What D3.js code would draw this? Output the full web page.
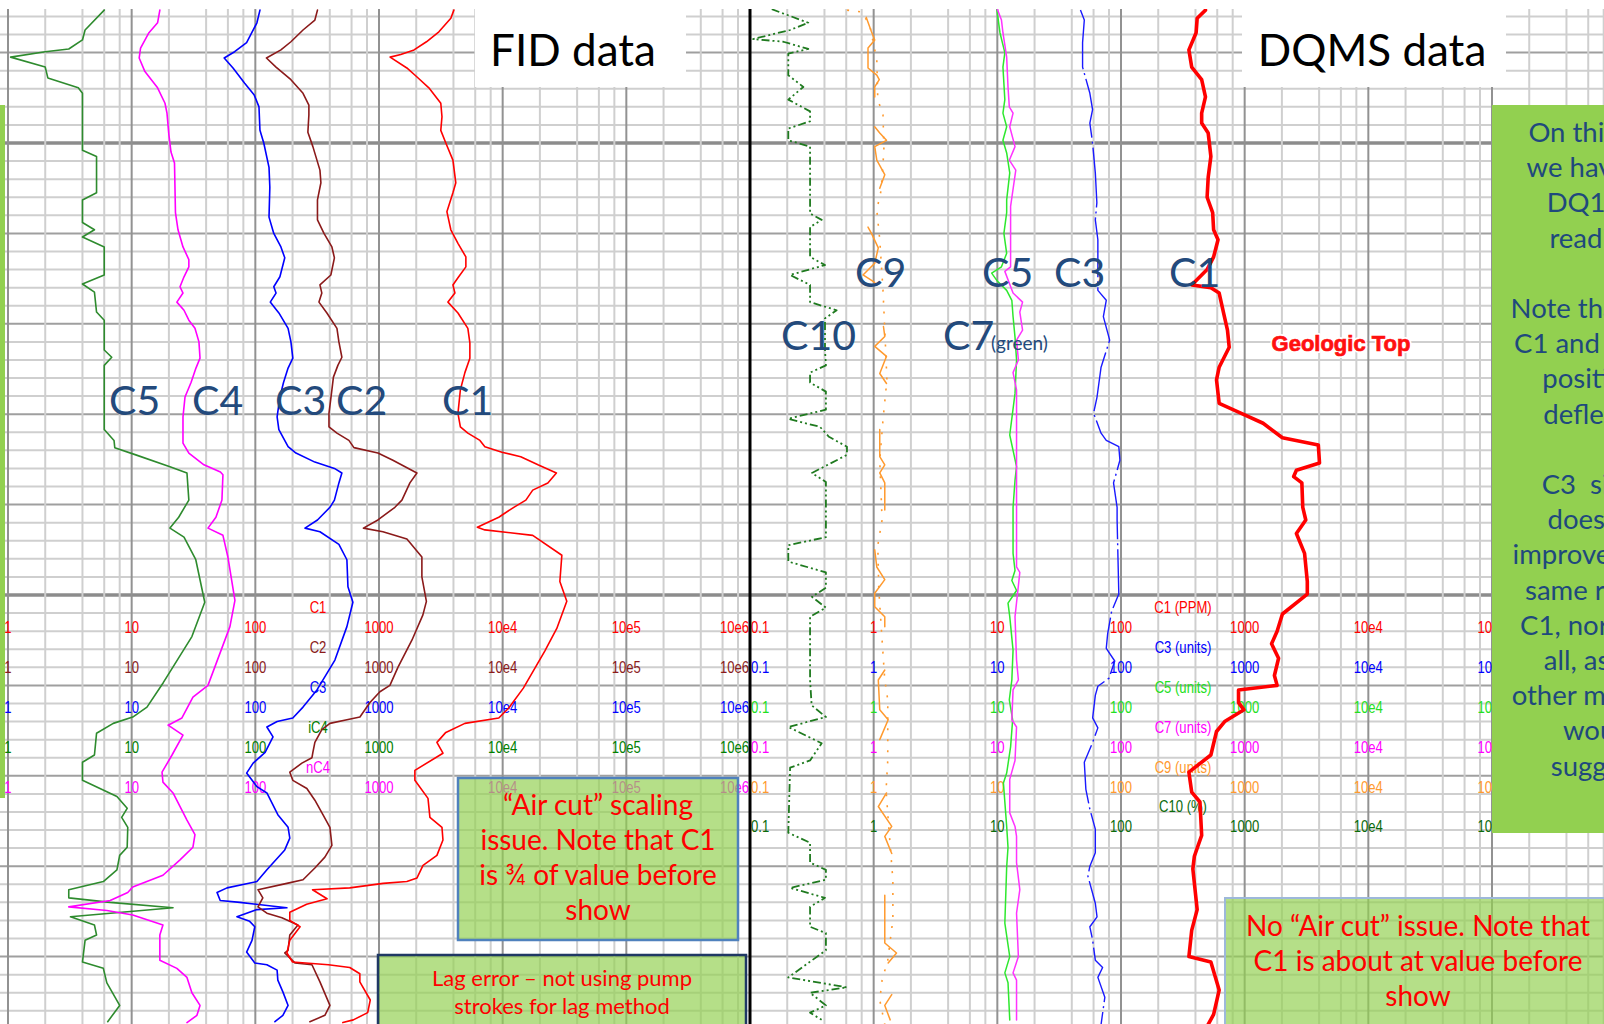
<!DOCTYPE html>
<html><head><meta charset="utf-8">
<script src="https://cdnjs.cloudflare.com/ajax/libs/d3/7.8.5/d3.min.js"></script>
<style>
html,body{margin:0;padding:0;background:#fff;}
svg{display:block;}
</style></head>
<body>
<svg id="chart" width="1604" height="1024"></svg>
<script>
// ---------- FID gas readings: [depth ft, ppm] ----------
const fidC5 = [[5385.3,6.0],[5387.5,4.2],[5388.6,4.0],[5389.6,3.1],[5389.9,2.0],[5390.5,1.05],[5391.6,2.0],[5392.8,2.1],[5393.9,3.7],[5394.5,4.0],[5400.8,4.0],[5401.5,5.2],[5405.5,5.2],[5406.3,4.0],[5408.8,4.0],[5409.6,5.0],[5410.4,4.0],[5411.5,6.0],[5414.6,6.0],[5415.6,4.0],[5416.5,5.0],[5418.7,5.2],[5419.6,6.0],[5422.9,6.0],[5423.7,6.9],[5424.6,6.0],[5431.7,6.0],[5432.9,7.2],[5433.7,7.3],[5434.5,10.8],[5435.8,20.4],[5436.5,28],[5439.5,29],[5441.4,24],[5442.6,20.4],[5443.6,26.5],[5446.1,33],[5450.8,39],[5454.6,30.7],[5459.7,18],[5462.4,13.3],[5463.5,10.2],[5464.2,7.1],[5465.3,5.2],[5467.7,5.0],[5468.5,4.0],[5470.5,4.0],[5472.3,7.6],[5473.6,9.2],[5474.6,8.3],[5475.7,9.3],[5477.9,9.2],[5478.8,8.0],[5480.4,7.6],[5481.7,5.9],[5482.6,3.1],[5483.5,3.1],[5484.0,6.7],[5484.6,21.6],[5485.6,3.2],[5486.5,5.0],[5487.6,5.2],[5488.2,4.2],[5490.6,4.0],[5491.3,5.9],[5492.9,6.3],[5495.4,8.0],[5497.2,6.4]];
const fidC4 = [[5385.3,16.9],[5386.7,16.2],[5387.8,13.8],[5389.5,11.8],[5390.6,11.5],[5392.1,12.8],[5393.9,16.2],[5395.6,18.6],[5396.7,19.3],[5399.1,20],[5401.0,20.8],[5402.2,22.2],[5407.7,22.6],[5409.6,23.7],[5411.5,26],[5412.9,29],[5413.7,29],[5414.8,26.5],[5415.9,24.6],[5416.6,26],[5417.6,23.2],[5418.5,26.5],[5419.6,29],[5420.5,32.5],[5422.0,35],[5423.8,35.7],[5424.9,33.1],[5426.5,30.2],[5428.1,27],[5430.3,26],[5433.2,26],[5434.3,29],[5435.6,38.4],[5436.4,52.2],[5436.7,54.7],[5439.5,53.7],[5441.4,48],[5442.6,41.4],[5443.4,54.7],[5445.8,60],[5450.6,68.4],[5453.5,62.3],[5460.0,41.4],[5461.3,31.3],[5463.6,25.5],[5464.4,19.7],[5465.5,26],[5467.7,21.2],[5469.6,17.6],[5470.7,17.9],[5471.9,21.6],[5474.9,28],[5476.5,32.5],[5477.9,31.3],[5479.3,24.6],[5481.0,17.9],[5482.3,10.2],[5482.9,9.3],[5483.8,6.7],[5484.5,3.1],[5484.9,6.3],[5485.4,10.2],[5486.5,17.9],[5487.6,16.9],[5490.4,16.9],[5491.3,23.2],[5492.3,28],[5494.0,30.7],[5495.4,35.7],[5496.5,33.7],[5497.3,28]];
const fidC3 = [[5385.3,109],[5386.7,103],[5388.9,85],[5389.9,68],[5390.6,56],[5391.7,66],[5393.4,82],[5394.7,98],[5396.0,107],[5398.6,109],[5400.0,117],[5402.7,129],[5404.9,131],[5408.2,129],[5410.0,141],[5411.5,161],[5412.7,173],[5414.8,158],[5415.9,141],[5416.6,147],[5417.6,132],[5418.8,155],[5420.5,184],[5422.0,194],[5423.8,201],[5424.9,184],[5426.5,169],[5428.1,158],[5430.3,150],[5431.7,155],[5433.6,184],[5434.3,213],[5435.3,303],[5436.0,436],[5436.5,501],[5437.6,474],[5439.5,436],[5440.3,401],[5441.7,318],[5442.6,252],[5443.0,333],[5444.4,474],[5446.1,550],[5449.1,561],[5450.8,615],[5453.5,550],[5457.2,440],[5460.5,315],[5462.4,243],[5463.6,201],[5464.0,150],[5464.6,124],[5465.7,139],[5467.4,120],[5468.6,96],[5469.7,85],[5471.2,103],[5471.9,124],[5474.3,152],[5475.7,184],[5476.9,190],[5478.2,173],[5480.4,124],[5481.7,103],[5482.4,59],[5482.9,49],[5483.8,52],[5484.0,75],[5484.6,180],[5484.8,103],[5485.6,71],[5486.1,90],[5486.7,99],[5488.2,94],[5489.5,85],[5490.7,99],[5490.9,124],[5491.5,150],[5492.6,152],[5493.9,167],[5495.4,184],[5496.5,167],[5497.2,144]];
const fidC2 = [[5385.3,318],[5386.4,303],[5387.5,243],[5388.8,194],[5389.7,161],[5390.6,123],[5391.6,147],[5393.0,194],[5394.5,243],[5395.8,271],[5396.9,271],[5398.8,266],[5400.4,292],[5403.0,333],[5404.4,339],[5406.3,318],[5408.5,318],[5410.0,359],[5411.5,416],[5412.7,436],[5414.6,408],[5415.7,333],[5416.6,345],[5417.6,327],[5418.8,379],[5420.5,457],[5422.0,474],[5423.7,501],[5424.6,465],[5425.9,428],[5427.3,416],[5429.9,394],[5431.4,394],[5432.1,457],[5432.9,571],[5433.7,627],[5434.3,980],[5435.1,1295],[5436.5,2025],[5437.6,1778],[5439.5,1532],[5440.3,1345],[5441.7,980],[5442.6,748],[5443.0,1076],[5443.8,1681],[5445.8,2222],[5448.0,2222],[5450.7,2417],[5452.2,2265],[5455.0,1845],[5458.0,1422],[5460.0,1225],[5460.7,1017],[5461.9,845],[5463.5,701],[5463.8,550],[5464.2,401],[5464.9,345],[5466.3,303],[5467.4,292],[5468.0,287],[5468.6,238],[5469.6,190],[5470.5,201],[5471.4,261],[5472.7,303],[5474.3,352],[5475.7,401],[5477.7,416],[5479.0,365],[5480.2,303],[5481.5,243],[5481.9,180],[5482.6,105],[5483.5,115],[5484.5,105],[5485.2,124],[5485.7,164],[5486.5,221],[5487.6,190],[5489.3,184],[5489.6,173],[5490.7,209],[5490.9,287],[5492.8,333],[5495.4,401],[5496.5,365],[5497.2,276]];
const fidC1 = [[5385.3,4030],[5386.2,3810],[5387.7,3050],[5388.8,2420],[5389.7,1920],[5390.2,1500],[5390.5,1230],[5391.7,1680],[5392.7,2030],[5393.9,2530],[5395.6,3160],[5397.1,3230],[5398.6,3160],[5400.0,3470],[5401.9,3960],[5404.4,4180],[5405.5,3960],[5407.6,3540],[5409.6,3810],[5411.1,4350],[5412.6,5040],[5413.7,5040],[5414.9,4350],[5415.7,3960],[5416.6,4110],[5417.6,3610],[5418.8,4350],[5420.5,5230],[5422.1,5430],[5423.8,5430],[5425.4,4950],[5427.3,4550],[5429.9,4350],[5431.4,4550],[5432.1,5230],[5432.9,6550],[5433.6,7180],[5434.2,9860],[5434.7,14000],[5435.6,19300],[5436.5,27200],[5437.6,23200],[5438.4,17500],[5439.5,15400],[5440.3,12300],[5441.4,9300],[5442.5,6240],[5442.8,7180],[5443.4,17500],[5445.6,30100],[5448.5,29000],[5450.7,33000],[5453.7,27400],[5456.2,21900],[5460.3,14700],[5462.5,11200],[5463.6,9300],[5464.2,4950],[5465.2,3470],[5466.3,2940],[5467.5,3290],[5469.4,1950],[5470.5,1950],[5472.5,2490],[5474.6,2580],[5475.7,3230],[5477.1,3290],[5478.8,2940],[5479.9,2270],[5481.3,2030],[5481.7,1680],[5481.9,1080],[5482.4,580],[5482.6,290],[5483.6,380],[5484.2,260],[5485.1,190],[5486.0,190],[5486.7,230],[5488.2,190],[5489.6,180],[5490.6,200],[5490.9,390],[5491.2,580],[5491.9,700],[5492.8,700],[5494.8,850],[5496.2,810],[5497.0,620],[5497.3,510]];

// ---------- DQMS readings: [depth ft, value] (null = no reading) ----------
const dqC10 = [[5385.2,0.150],[5386.7,0.296],[5387.5,0.211],[5388.5,0.106],[5388.8,0.186],[5389.6,0.296],[5390.1,0.204],[5392.5,0.204],[5393.8,0.270],[5395.2,0.204],[5396.5,0.306],[5397.6,0.306],[5398.4,0.204],[5399.7,0.204],[5400.4,0.306],[5407.8,0.306],[5408.5,0.380],[5409.3,0.306],[5412.6,0.306],[5413.5,0.404],[5414.6,0.211],[5415.7,0.306],[5417.6,0.306],[5418.5,0.502],[5419.4,0.404],[5422.9,0.404],[5424.6,0.411],[5425.4,0.306],[5426.5,0.306],[5427.5,0.411],[5429.5,0.411],[5430.5,0.204],[5431.4,0.368],[5432.5,0.435],[5433.6,0.608],[5434.5,0.608],[5436.5,0.317],[5437.5,0.411],[5443.6,0.411],[5444.5,0.204],[5446.3,0.204],[5447.5,0.411],[5449.2,0.411],[5450.2,0.317],[5451.4,0.411],[5452.4,0.306],[5459.4,0.306],[5462.2,0.315],[5463.5,0.411],[5464.6,0.204],[5466.4,0.380],[5468.3,0.306],[5469.1,0.211],[5476.3,0.204],[5477.4,0.306],[5479.6,0.306],[5480.4,0.411],[5481.5,0.411],[5482.4,0.211],[5483.5,0.404],[5484.5,0.306],[5486.7,0.306],[5487.4,0.411],[5489.3,0.411],[5492.3,0.204],[5493.4,0.608],[5494.0,0.306],[5495.4,0.411],[5496.2,0.306],[5497.0,0.380]];
const dqC9 = [[5386.1,0.87],[5387.7,0.96],[5388.6,1.02],[5389.5,0.90],[5391.7,0.90],[5392.5,1.06],[5393.0,1.11],[5393.8,1.02],[5394.9,1.02],[5396.5,null],[5398.2,1.02],[5398.9,1.12],[5399.7,1.27],[5400.4,1.02],[5401.9,1.06],[5403.5,1.23],[5405.0,1.12],[5407,null],[5409.3,0.90],[5410.0,0.96],[5411.6,1.09],[5413.3,1.02],[5414.6,0.82],[5415.3,0.99],[5415.7,1.06],[5418,null],[5420.3,1.20],[5421.4,1.23],[5422.5,1.02],[5423.6,1.27],[5425.5,1.12],[5426.6,1.27],[5429,null],[5431.7,1.12],[5434.7,1.12],[5435.6,1.23],[5436.5,1.12],[5437.6,1.23],[5440.6,1.23],[5443,null],[5445.0,1.02],[5446.9,1.06],[5448.3,1.23],[5449.8,1.02],[5451.3,1.02],[5452.4,1.23],[5453.5,1.23],[5456,null],[5458.3,1.23],[5459.4,1.09],[5462.7,1.12],[5463.8,1.31],[5466.0,1.12],[5469,null],[5471.9,1.27],[5473.4,1.09],[5475.6,1.40],[5476.7,1.23],[5478.6,1.40],[5481,null],[5483.2,1.23],[5488.5,1.23],[5489.6,1.53],[5490.7,1.31],[5492,null],[5494.2,1.40],[5495.4,1.23],[5497.0,1.36]];
const dqC9b = [[5385.3,0.61],[5385.5,0.80],[5387.0,0.93],[5390.8,1.06],[5395.2,1.08],[5396.9,1.19],[5400.8,1.21],[5405.2,1.15],[5407.4,1.06],[5410.7,1.12],[5416.3,1.19],[5420.7,1.23],[5426.2,1.28],[5430.6,1.19],[5435.1,1.12],[5441.7,1.17],[5444.5,1.08],[5449.4,1.10],[5455.0,1.17],[5459.4,1.23],[5461.6,1.30],[5468.3,1.30],[5471.6,1.26],[5476.0,1.33],[5481.5,1.43],[5485.9,1.43],[5490.4,1.30],[5492.6,1.17],[5494.8,1.12],[5497.5,1.23]];
const dqC7 = [[5385.2,10.0],[5386.4,10.8],[5387.8,11.1],[5390.5,11.9],[5393.8,12.2],[5396.0,12.5],[5396.7,13.4],[5398.2,12.6],[5400.4,13.9],[5401.9,12.5],[5403.0,14.1],[5407.0,12.8],[5412.2,12.8],[5413.7,12.8],[5414.2,11.5],[5416.6,13.4],[5417.6,16.0],[5418.7,15.2],[5420.7,16.0],[5421.8,14.3],[5424.0,14.8],[5425.4,13.4],[5427.3,14.3],[5435.4,14.3],[5446.9,14.3],[5447.5,15.2],[5452.4,13.9],[5457.2,14.3],[5459.4,14.8],[5460.5,13.4],[5463.8,13.1],[5464.6,14.3],[5468.3,13.9],[5470.4,12.6],[5474.1,12.6],[5475.6,13.9],[5476.7,14.3],[5479.6,14.3],[5482.6,15.2],[5485.2,14.3],[5490.0,14.8],[5491.8,13.4],[5492.6,14.3],[5497.0,14.3]];
const dqC5 = [[5385.2,9.9],[5387.8,10.5],[5390.0,11.5],[5391.6,11.1],[5395.2,11.5],[5396.7,11.1],[5398.2,11.9],[5399.7,11.1],[5401.1,11.9],[5403.3,12.6],[5406.3,11.9],[5407.7,11.9],[5410.0,11.3],[5412.2,11.9],[5413.7,10.8],[5414.4,9.0],[5415.2,9.9],[5416.3,11.9],[5417.4,13.1],[5419.2,13.4],[5421.5,13.9],[5424.0,14.3],[5427.7,13.9],[5432.3,12.6],[5434.0,13.4],[5435.8,14.3],[5437.3,13.9],[5440.3,13.4],[5443.9,13.4],[5445.4,13.4],[5447.3,13.9],[5448.4,13.1],[5449.5,14.3],[5450.9,12.2],[5452.4,12.6],[5456.1,13.4],[5459.4,13.1],[5461.6,12.5],[5463.8,13.3],[5466.8,12.8],[5469.7,11.9],[5470.8,11.2],[5475.6,11.9],[5477.9,12.2],[5480.1,11.9],[5486.3,11.5],[5490.0,12.6],[5491.8,11.5],[5492.9,12.2],[5497.0,12.6]];
const dqC3 = [[5385.3,47],[5386.4,50.5],[5388.9,48.9],[5391.6,48.9],[5394.5,56],[5396.3,58.9],[5397.8,56],[5400.0,58.9],[5403.3,62],[5406.6,63.8],[5408.5,62],[5410.7,65],[5416.3,65],[5417.4,76],[5419.2,72],[5421.8,81],[5424.8,69],[5428.1,64],[5429.9,60],[5432.1,69],[5432.9,76],[5433.6,96],[5435.1,98],[5437.6,87],[5440.3,93],[5441.7,93],[5449.9,96],[5451.8,84],[5454.3,78],[5455.9,76],[5457.3,89],[5459.2,80],[5460.1,65],[5461.1,62],[5463.6,59],[5464.7,65],[5466.3,59],[5468.5,50.5],[5471.5,52],[5473.7,56],[5475.9,62],[5478.5,62],[5480.0,56],[5481.1,54],[5484.1,62],[5485.6,64],[5486.7,56],[5488.2,59],[5490.4,62],[5491.2,71],[5492.3,65],[5494.5,74],[5497.5,69]];
const dqC1 = [[5385.3,482],[5386.2,413],[5387.8,405],[5389.7,354],[5391.6,373],[5393.0,449],[5394.9,482],[5396.7,449],[5397.8,449],[5398.9,507],[5401.5,533],[5403.8,507],[5406.0,497],[5407.7,551],[5409.6,561],[5410.7,609],[5412.6,561],[5414.0,497],[5415.7,373],[5416.0,533],[5416.6,622],[5418.8,675],[5420.7,726],[5422.6,750],[5424.8,622],[5426.2,592],[5428.8,622],[5429.9,939],[5431.0,1410],[5432.6,2020],[5433.4,3940],[5435.4,4030],[5436.2,2620],[5436.9,2490],[5437.6,2900],[5440.3,2950],[5441.7,3120],[5443.2,2620],[5445.4,3050],[5448.5,3210],[5449.9,3210],[5452.1,2020],[5454.0,1830],[5455.4,1650],[5457.0,1880],[5458.9,1740],[5460.0,1830],[5460.5,892],[5461.9,892],[5462.7,986],[5464.0,689],[5465.1,592],[5467.7,533],[5469.6,354],[5471.8,373],[5472.9,435],[5476.6,449],[5478.9,392],[5480.3,381],[5484.8,413],[5487.1,373],[5490.0,354],[5490.6,533],[5493.7,622],[5496.4,561],[5497.5,507]];

// ---------- scale labels ----------
const fidTickValues = [1, 10, 100, 1000, 1e4, 1e5, 1e6];
const fidTickLabels = ["1", "10", "100", "1000", "10e4", "10e5", "10e6"];
const dqTickValues = [0.1, 1, 10, 100, 1000, 1e4, 1e5];
const dqTickLabels = ["0.1", "1", "10", "100", "1000", "10e4", "10e5"];
const fidRowNames = ["C1", "C2", "C3", "iC4", "nC4"];
const dqRowNames = ["C1 (PPM)", "C3 (units)", "C5 (units)", "C7 (units)", "C9 (units)", "C10 (%)"];

// ---------- annotation text ----------
const noteAirCut = ["\u201CAir cut\u201D scaling", "issue. Note that C1", "is \u00BE of value before", "show"];
const noteLag = ["Lag error \u2013 not using pump", "strokes for lag method"];
const noteNoAirCut = ["No \u201CAir cut\u201D issue. Note that", "C1 is about at value before", "show"];
const noteSide = ["On this well", "we have the", "DQ1000", "readings", "", "Note that both", "C1 and C3 are", "positively", "deflected", "", "C3  signal", "does not", "improve at the", "same rate as", "C1, nor really", "all, as the", "other methods", "would", "suggest."];

// ---------- styling ----------
const fidRowColors = ["#ff0000", "#8b1a1a", "#0000ff", "#008000", "#ff00ff"];
const dqRowColors = ["#ff0000", "#0000ff", "#22e022", "#ff00ff", "#ff9a2e", "#0b6b0b"];
const NAVY = "#234a7c";
const TICK_FONT = "'Liberation Sans',Arial,sans-serif";
const TEXT_FONT = "Lato,'Open Sans',sans-serif";

const W = 1604, H = 1024, TOP = 9;
const svg = d3.select("#chart");

// depth runs down the page; each panel has its own log scale
const yDepth = d3.scaleLinear().domain([5400, 5450]).range([143, 595]);
const xFid = d3.scaleLog().domain([1, 1e6]).range([8, 750]);
const xDq = d3.scaleLog().domain([0.1, 1e6]).range([750, 750 + 7 * (742 / 6)]);

// ---------- grid ----------
const gGrid = svg.append("g");
d3.range(5386, 5497, 2).forEach(d => {
  const r = ((d - 5400) % 50 + 50) % 50, r10 = ((d - 5400) % 10 + 10) % 10;
  const y = yDepth(d);
  gGrid.append("line").attr("x1", 0).attr("x2", W).attr("y1", y).attr("y2", y)
    .attr("stroke", r === 0 ? "#8c8c8c" : (r10 === 0 ? "#9f9f9f" : "#cfcfcf"))
    .attr("stroke-width", r === 0 ? 3.5 : 2);
});
function vGrid(scale, kFrom, kTo) {
  for (let k = kFrom; k <= kTo; k++) {
    [1, 2, 4, 6, 8].forEach(m => {
      const x = scale(m * Math.pow(10, k));
      if (x < 0 || x > W) return;
      gGrid.append("line").attr("x1", x).attr("x2", x).attr("y1", TOP).attr("y2", H)
        .attr("stroke", m === 1 ? "#929292" : "#cfcfcf").attr("stroke-width", 2);
    });
  }
}
vGrid(xFid, 0, 5);
vGrid(xDq, -1, 5);
gGrid.append("rect").attr("x", 0).attr("y", 0).attr("width", W).attr("height", TOP).attr("fill", "#fff");

// title boxes knock out the grid
svg.append("rect").attr("x", 475).attr("y", 0).attr("width", 211).attr("height", 87).attr("fill", "#fff");
svg.append("rect").attr("x", 1242).attr("y", 0).attr("width", 264).attr("height", 87).attr("fill", "#fff");
svg.append("text").attr("x", 573).attr("y", 66).attr("text-anchor", "middle")
  .attr("font-family", TEXT_FONT).attr("font-size", 44).attr("fill", "#000").text("FID data");
svg.append("text").attr("x", 1372).attr("y", 66).attr("text-anchor", "middle")
  .attr("font-family", TEXT_FONT).attr("font-size", 44).attr("fill", "#000").text("DQMS data");

// left-hand green tab
svg.append("rect").attr("x", 0).attr("y", 105).attr("width", 5).attr("height", 693).attr("fill", "#92d050");

// ---------- scale rows (narrowed sans) ----------
const gTicks = svg.append("g").attr("font-family", TICK_FONT).attr("font-size", 17);
function tickText(x, y, anchor, color, str) {
  gTicks.append("text").attr("transform", `translate(${x},${y}) scale(0.77,1)`)
    .attr("text-anchor", anchor).attr("fill", color).text(str);
}
fidRowNames.forEach((name, i) => {
  const yb = 633 + 40 * i;
  tickText(318, yb - 20, "middle", fidRowColors[i], name);
  fidTickValues.forEach((v, j) => {
    const last = j === fidTickValues.length - 1;
    tickText(last ? xFid(v) - 1 : xFid(v), yb, last ? "end" : "middle", fidRowColors[i], fidTickLabels[j]);
  });
});
dqRowNames.forEach((name, i) => {
  const yb = 633 + 40 * i - (i === 5 ? 1 : 0);
  tickText(1183, yb - 20, "middle", dqRowColors[i], name);
  dqTickValues.forEach((v, j) => {
    const first = j === 0;
    tickText(first ? xDq(v) + 1 : xDq(v), yb, first ? "start" : "middle", dqRowColors[i], dqTickLabels[j]);
  });
});

// ---------- curves ----------
const defs = svg.append("defs");
defs.append("clipPath").attr("id", "clipL").append("rect").attr("x", 0).attr("y", TOP).attr("width", 750).attr("height", H - TOP);
defs.append("clipPath").attr("id", "clipR").append("rect").attr("x", 750).attr("y", TOP).attr("width", W - 750).attr("height", H - TOP);

function curve(g, data, xs, color, width, dash) {
  const line = d3.line().defined(d => d[1] != null).x(d => xs(d[1])).y(d => yDepth(d[0]));
  g.append("path").datum(data).attr("d", line).attr("fill", "none")
    .attr("stroke", color).attr("stroke-width", width)
    .attr("stroke-linejoin", "round").attr("stroke-linecap", dash ? "butt" : "round")
    .attr("stroke-dasharray", dash || null);
}
const gL = svg.append("g").attr("clip-path", "url(#clipL)");
curve(gL, fidC5, xFid, "#2e8b2e", 1.6);
curve(gL, fidC4, xFid, "#ff00ff", 1.6);
curve(gL, fidC3, xFid, "#0000ff", 1.6);
curve(gL, fidC2, xFid, "#8b1a1a", 1.6);
curve(gL, fidC1, xFid, "#ff0000", 1.6);

const gR = svg.append("g").attr("clip-path", "url(#clipR)");
curve(gR, dqC10, xDq, "#1f7a1f", 1.8, "8,3,2,3,2,3");
curve(gR, dqC9b, xDq, "#ff9a2e", 1.6, "2,9");
curve(gR, dqC9, xDq, "#ff9a2e", 1.5);
curve(gR, dqC5, xDq, "#2ee82e", 1.5);
curve(gR, dqC7, xDq, "#ff33ff", 1.5);
curve(gR, dqC3, xDq, "#1a1aff", 1.4, "60,4,2,4");
curve(gR, dqC1, xDq, "#ff0000", 3.6);

// panel divider
svg.append("line").attr("x1", 750).attr("x2", 750).attr("y1", TOP).attr("y2", H)
  .attr("stroke", "#000").attr("stroke-width", 3);

// ---------- curve names ----------
const gNames = svg.append("g").attr("font-family", TEXT_FONT).attr("font-size", 41).attr("fill", NAVY);
[["C5", 109, 415], ["C4", 192, 415], ["C3", 275, 415], ["C2", 336, 415], ["C1", 442, 415],
 ["C9", 855, 287], ["C5", 982, 287], ["C3", 1054, 287], ["C1", 1169, 287],
 ["C10", 781, 350], ["C7", 943, 350]].forEach(([t, x, y]) => {
  gNames.append("text").attr("x", x).attr("y", y).text(t);
});
gNames.append("text").attr("x", 991).attr("y", 350).attr("font-size", 19).text("(green)");

const geo = svg.append("g").attr("font-family", "'Liberation Sans',Arial,sans-serif")
  .attr("font-weight", "bold").attr("font-size", 22).attr("text-anchor", "middle");
geo.append("text").attr("x", 1341).attr("y", 351).attr("fill", "#fff")
  .attr("stroke", "#fff").attr("stroke-width", 4).attr("stroke-linejoin", "round").text("Geologic Top");
geo.append("text").attr("x", 1341).attr("y", 351).attr("fill", "#ff1010")
  .attr("stroke", "#ff1010").attr("stroke-width", 0.7).text("Geologic Top");

// ---------- annotation boxes ----------
function noteBox(x, y, w, h, border, bw, lines, cx, firstBase, step, size, color, fill, opacity) {
  svg.append("rect").attr("x", x).attr("y", y).attr("width", w).attr("height", h)
    .attr("fill", fill).attr("fill-opacity", opacity)
    .attr("stroke", border || "none").attr("stroke-width", bw);
  const t = svg.append("text").attr("font-family", TEXT_FONT).attr("font-size", size)
    .attr("fill", color).attr("text-anchor", "middle").style("white-space", "pre");
  lines.forEach((ln, i) => {
    if (ln) t.append("tspan").attr("x", cx).attr("y", firstBase + step * i).text(ln);
  });
}
noteBox(458, 778, 280, 162, "#4f81bd", 2.5, noteAirCut, 598, 815, 35, 28, "#ff0000", "#92d050", 0.68);
noteBox(378, 955, 368, 80, "#1f3864", 2.5, noteLag, 562, 986, 28, 22, "#ff0000", "#92d050", 0.68);
noteBox(1225, 898, 390, 140, "#9db8da", 2, noteNoAirCut, 1418, 936, 35, 28, "#ff0000", "#92d050", 0.68);
noteBox(1492, 105, 150, 728, null, 0, noteSide, 1600, 142, 35.2, 27.5, "#1f497d", "#92d050", 1);
</script>
</body></html>
